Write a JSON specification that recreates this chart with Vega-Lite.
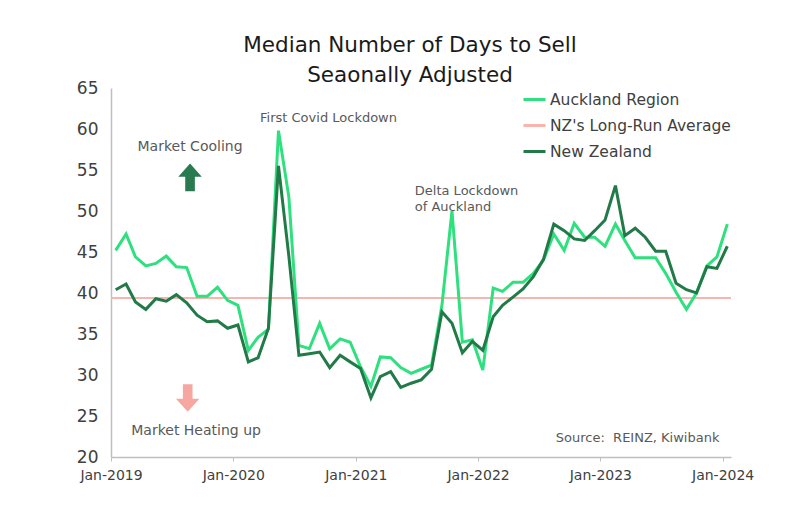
{
  "$schema": "https://vega.github.io/schema/vega-lite/v6.json",
  "width": 620,
  "height": 369,
  "autosize": {"type": "none"},
  "padding": {"left": 111, "top": 88, "right": 69, "bottom": 53},
  "background": "white",
  "config": {"font": "DejaVu Sans", "view": {"stroke": null}},
  "title": {
    "text": ["Median Number of Days to Sell", "Seaonally Adjusted"],
    "fontSize": 21.5,
    "fontWeight": "normal",
    "color": "#1a1a1a",
    "lineHeight": 30,
    "anchor": "middle",
    "frame": "group",
    "dx": -11,
    "dy": 7,
    "offset": 0
  },
  "datasets": {
    "series": [
      {"date": "2019-01-15", "Auckland Region": 45.2, "New Zealand": 40.4},
      {"date": "2019-02-15", "Auckland Region": 47.2, "New Zealand": 41.1},
      {"date": "2019-03-15", "Auckland Region": 44.4, "New Zealand": 38.9},
      {"date": "2019-04-15", "Auckland Region": 43.3, "New Zealand": 38.0},
      {"date": "2019-05-15", "Auckland Region": 43.6, "New Zealand": 39.3},
      {"date": "2019-06-15", "Auckland Region": 44.5, "New Zealand": 39.0},
      {"date": "2019-07-15", "Auckland Region": 43.2, "New Zealand": 39.8},
      {"date": "2019-08-15", "Auckland Region": 43.1, "New Zealand": 38.8},
      {"date": "2019-09-15", "Auckland Region": 39.6, "New Zealand": 37.3},
      {"date": "2019-10-15", "Auckland Region": 39.6, "New Zealand": 36.5},
      {"date": "2019-11-15", "Auckland Region": 40.7, "New Zealand": 36.6},
      {"date": "2019-12-15", "Auckland Region": 39.1, "New Zealand": 35.7},
      {"date": "2020-01-15", "Auckland Region": 38.5, "New Zealand": 36.1},
      {"date": "2020-02-15", "Auckland Region": 33.0, "New Zealand": 31.6},
      {"date": "2020-03-15", "Auckland Region": 34.6, "New Zealand": 32.1},
      {"date": "2020-04-15", "Auckland Region": 35.6, "New Zealand": 35.7},
      {"date": "2020-05-15", "Auckland Region": 59.8, "New Zealand": 55.5},
      {"date": "2020-06-15", "Auckland Region": 51.7, "New Zealand": 44.5},
      {"date": "2020-07-15", "Auckland Region": 33.6, "New Zealand": 32.4},
      {"date": "2020-08-15", "Auckland Region": 33.2, "New Zealand": 32.6},
      {"date": "2020-09-15", "Auckland Region": 36.3, "New Zealand": 32.8},
      {"date": "2020-10-15", "Auckland Region": 33.2, "New Zealand": 30.9},
      {"date": "2020-11-15", "Auckland Region": 34.4, "New Zealand": 32.4},
      {"date": "2020-12-15", "Auckland Region": 34.0, "New Zealand": 31.6},
      {"date": "2021-01-15", "Auckland Region": 31.0, "New Zealand": 30.8},
      {"date": "2021-02-15", "Auckland Region": 28.6, "New Zealand": 27.2},
      {"date": "2021-03-15", "Auckland Region": 32.2, "New Zealand": 29.8},
      {"date": "2021-04-15", "Auckland Region": 32.1, "New Zealand": 30.4},
      {"date": "2021-05-15", "Auckland Region": 30.9, "New Zealand": 28.5},
      {"date": "2021-06-15", "Auckland Region": 30.2, "New Zealand": 29.0},
      {"date": "2021-07-15", "Auckland Region": 30.7, "New Zealand": 29.4},
      {"date": "2021-08-15", "Auckland Region": 31.2, "New Zealand": 30.7},
      {"date": "2021-09-15", "Auckland Region": 38.5, "New Zealand": 37.7},
      {"date": "2021-10-15", "Auckland Region": 50.0, "New Zealand": 36.3},
      {"date": "2021-11-15", "Auckland Region": 34.0, "New Zealand": 32.7},
      {"date": "2021-12-15", "Auckland Region": 34.3, "New Zealand": 34.1},
      {"date": "2022-01-15", "Auckland Region": 30.6, "New Zealand": 33.0},
      {"date": "2022-02-15", "Auckland Region": 40.6, "New Zealand": 37.1},
      {"date": "2022-03-15", "Auckland Region": 40.2, "New Zealand": 38.5},
      {"date": "2022-04-15", "Auckland Region": 41.3, "New Zealand": 39.5},
      {"date": "2022-05-15", "Auckland Region": 41.3, "New Zealand": 40.5},
      {"date": "2022-06-15", "Auckland Region": 42.4, "New Zealand": 42.0},
      {"date": "2022-07-15", "Auckland Region": 44.0, "New Zealand": 44.1},
      {"date": "2022-08-15", "Auckland Region": 47.2, "New Zealand": 48.4},
      {"date": "2022-09-15", "Auckland Region": 45.2, "New Zealand": 47.6},
      {"date": "2022-10-15", "Auckland Region": 48.5, "New Zealand": 46.6},
      {"date": "2022-11-15", "Auckland Region": 46.8, "New Zealand": 46.4},
      {"date": "2022-12-15", "Auckland Region": 46.8, "New Zealand": 47.6},
      {"date": "2023-01-15", "Auckland Region": 45.7, "New Zealand": 48.9},
      {"date": "2023-02-15", "Auckland Region": 48.4, "New Zealand": 53.1},
      {"date": "2023-03-15", "Auckland Region": 46.4, "New Zealand": 47.0},
      {"date": "2023-04-15", "Auckland Region": 44.3, "New Zealand": 47.9},
      {"date": "2023-05-15", "Auckland Region": 44.3, "New Zealand": 46.8},
      {"date": "2023-06-15", "Auckland Region": 44.3, "New Zealand": 45.1},
      {"date": "2023-07-15", "Auckland Region": 42.4, "New Zealand": 45.1},
      {"date": "2023-08-15", "Auckland Region": 40.1, "New Zealand": 41.2},
      {"date": "2023-09-15", "Auckland Region": 38.0, "New Zealand": 40.4},
      {"date": "2023-10-15", "Auckland Region": 40.0, "New Zealand": 40.0},
      {"date": "2023-11-15", "Auckland Region": 43.3, "New Zealand": 43.2},
      {"date": "2023-12-15", "Auckland Region": 44.4, "New Zealand": 43.0},
      {"date": "2024-01-15", "Auckland Region": 48.4, "New Zealand": 45.7}
    ],
    "avg": [{"series": "NZ's Long-Run Average", "value": 39.4}],
    "notes": [
      {"date": "2019-08-25", "value": 57.8, "label": "Market Cooling", "pos": "center"},
      {"date": "2019-09-12", "value": 23.2, "label": "Market Heating up", "pos": "center"},
      {"date": "2020-03-21", "value": 61.3, "label": "First Covid Lockdown", "pos": "left"},
      {"date": "2021-06-26", "value": 52.4, "label": "Delta Lockdown", "pos": "left"},
      {"date": "2021-06-26", "value": 50.5, "label": "of Auckland", "pos": "left"},
      {"date": "2022-08-21", "value": 22.36, "label": "Source:\u00a0\u00a0REINZ, Kiwibank", "pos": "left"}
    ],
    "arrows": [
      {"date": "2019-08-25", "value": 54.1, "kind": "up"},
      {"date": "2019-08-18", "value": 27.2, "kind": "down"}
    ]
  },
  "layer": [
    {
      "data": {"name": "avg"},
      "mark": {"type": "rule", "strokeWidth": 2},
      "encoding": {
        "y": {
          "field": "value", "type": "quantitative",
          "scale": {"domain": [20, 65], "nice": false, "zero": false},
          "axis": {
            "values": [20, 25, 30, 35, 40, 45, 50, 55, 60, 65],
            "grid": false, "ticks": false,
            "domainColor": "#BFBFBF", "domainWidth": 1.5,
            "labelFontSize": 17, "labelColor": "#404040", "labelPadding": 13,
            "title": null
          }
        },
        "color": {
          "field": "series", "type": "nominal",
          "scale": {
            "domain": ["Auckland Region", "NZ's Long-Run Average", "New Zealand"],
            "range": ["#2EE07E", "#F7B5AD", "#217A47"]
          },
          "legend": {
            "title": null, "orient": "none", "legendX": 411, "legendY": -1,
            "symbolType": "stroke", "symbolSize": 484, "symbolStrokeWidth": 3,
            "labelFontSize": 15.5, "labelColor": "#404040", "labelOffset": 3,
            "rowPadding": 5, "labelLimit": 300
          }
        }
      }
    },
    {
      "data": {"name": "series"},
      "transform": [{"fold": ["Auckland Region", "New Zealand"], "as": ["series", "value"]}],
      "mark": {"type": "line", "strokeWidth": 3},
      "encoding": {
        "x": {
          "field": "date", "type": "temporal",
          "scale": {"type": "utc", "domain": [{"year": 2019, "month": 1, "date": 1, "utc": true}, {"year": 2024, "month": 1, "date": 26, "utc": true}]},
          "axis": {
            "values": [
              {"year": 2019, "month": 1, "date": 1, "utc": true},
              {"year": 2020, "month": 1, "date": 1, "utc": true},
              {"year": 2021, "month": 1, "date": 1, "utc": true},
              {"year": 2022, "month": 1, "date": 1, "utc": true},
              {"year": 2023, "month": 1, "date": 1, "utc": true},
              {"year": 2024, "month": 1, "date": 1, "utc": true}
            ],
            "labelExpr": "utcFormat(datum.value, '%b-%Y')",
            "grid": false, "domainColor": "#BFBFBF", "domainWidth": 1.5,
            "tickColor": "#BFBFBF", "tickSize": 4, "labelFontSize": 14,
            "labelColor": "#404040", "labelPadding": 7, "labelOverlap": false,
            "labelFlush": false, "title": null
          }
        },
        "y": {"field": "value", "type": "quantitative"},
        "color": {"field": "series", "type": "nominal"}
      }
    },
    {
      "data": {"name": "notes"},
      "transform": [{"filter": "datum.pos === 'center'"}],
      "mark": {"type": "text", "align": "center", "baseline": "middle", "fontSize": 14, "color": "#595959"},
      "encoding": {
        "x": {"field": "date", "type": "temporal"},
        "y": {"field": "value", "type": "quantitative"},
        "text": {"field": "label"}
      }
    },
    {
      "data": {"name": "notes"},
      "transform": [{"filter": "datum.pos === 'left'"}],
      "mark": {"type": "text", "align": "left", "baseline": "middle", "fontSize": 13, "color": "#595959"},
      "encoding": {
        "x": {"field": "date", "type": "temporal"},
        "y": {"field": "value", "type": "quantitative"},
        "text": {"field": "label"}
      }
    },
    {
      "data": {"name": "arrows"},
      "transform": [{"filter": "datum.kind === 'up'"}],
      "mark": {"type": "point", "filled": true, "opacity": 1, "size": 760, "color": "#2A7A4F",
               "shape": "M0,-1 L0.85,-0.05 L0.35,-0.05 L0.35,1 L-0.35,1 L-0.35,-0.05 L-0.85,-0.05 Z"},
      "encoding": {
        "x": {"field": "date", "type": "temporal"},
        "y": {"field": "value", "type": "quantitative"}
      }
    },
    {
      "data": {"name": "arrows"},
      "transform": [{"filter": "datum.kind === 'down'"}],
      "mark": {"type": "point", "filled": true, "opacity": 1, "size": 760, "color": "#F6A8A0",
               "shape": "M0,1 L0.85,0.05 L0.35,0.05 L0.35,-1 L-0.35,-1 L-0.35,0.05 L-0.85,0.05 Z"},
      "encoding": {
        "x": {"field": "date", "type": "temporal"},
        "y": {"field": "value", "type": "quantitative"}
      }
    }
  ]
}
